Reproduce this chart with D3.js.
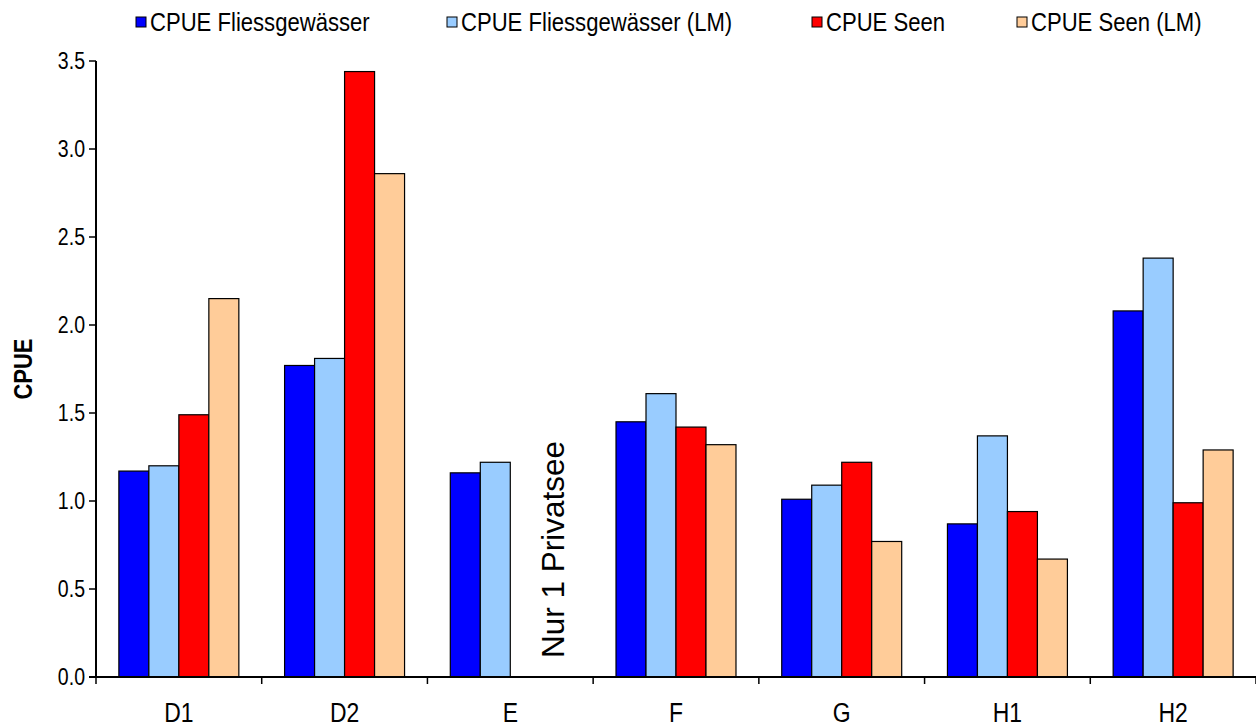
<!DOCTYPE html>
<html><head><meta charset="utf-8">
<script src="https://cdn.jsdelivr.net/npm/d3@7"></script>
<style>
html,body{margin:0;padding:0;background:#fff;}
svg text{font-family:Arial,"Liberation Sans",sans-serif;fill:#000;}
</style></head>
<body>
<svg id="chart" width="1256" height="728"></svg>
<script>
const categories = ["D1","D2","E","F","G","H1","H2"];
const seriesNames = ["CPUE Fliessgewässer","CPUE Fliessgewässer (LM)","CPUE Seen","CPUE Seen (LM)"];
const fliess   = [1.17,1.77,1.16,1.45,1.01,0.87,2.08];
const fliessLM = [1.20,1.81,1.22,1.61,1.09,1.37,2.38];
const seen     = [1.49,3.44,null,1.42,1.22,0.94,0.99];
const seenLM   = [2.15,2.86,null,1.32,0.77,0.67,1.29];
const seriesColors = ["#0000FF","#99CCFF","#FF0000","#FFCC99"];
const yTicks = [0,0.5,1.0,1.5,2.0,2.5,3.0,3.5];
const yTitle = "CPUE";
const annotationText = "Nur 1 Privatsee";
const annotationCategory = "E";

const seriesValues = [fliess, fliessLM, seen, seenLM];
const SX = 0.85; // horizontal glyph condensing of the reference

const svg = d3.select("#chart");
const plotLeft = 96, plotRight = 1256, plotTop = 61, plotBottom = 677;

const x = d3.scaleBand().domain(categories).range([plotLeft, plotRight]).paddingInner(0.276).paddingOuter(0.138);
const x1 = d3.scaleBand().domain(seriesNames).range([0, x.bandwidth()]).padding(0);
const y = d3.scaleLinear().domain([0, 3.5]).range([plotBottom, plotTop]);

function hText(g, px, py, txt, size, anchor) {
  return g.append("text")
    .attr("transform", `translate(${px},${py}) scale(${SX},1)`)
    .attr("font-size", size).attr("text-anchor", anchor).text(txt);
}
function vText(g, px, py, txt, size, anchor, thick) {
  return g.append("text")
    .attr("transform", `translate(${px},${py}) rotate(-90) scale(1,${thick})`)
    .attr("font-size", size).attr("text-anchor", anchor).text(txt);
}

// bars
const rows = categories.map((c, i) => ({cat: c, vals: seriesNames.map((s, j) => ({s, j, v: seriesValues[j][i]}))}));
const groups = svg.append("g").selectAll("g").data(rows).join("g")
  .attr("transform", d => `translate(${x(d.cat)},0)`);
groups.selectAll("rect").data(d => d.vals.filter(e => e.v != null)).join("rect")
  .attr("x", d => x1(d.s))
  .attr("width", x1.bandwidth())
  .attr("y", d => y(d.v))
  .attr("height", d => y(0) - y(d.v))
  .attr("fill", d => seriesColors[d.j])
  .attr("stroke", "#000").attr("stroke-width", 1.2);

// y axis
const yAxis = svg.append("g");
yAxis.append("line").attr("x1", plotLeft).attr("x2", plotLeft).attr("y1", y(3.5)).attr("y2", y(0))
  .attr("stroke", "#000").attr("stroke-width", 2);
yTicks.forEach(t => {
  yAxis.append("line").attr("x1", plotLeft - 7).attr("x2", plotLeft).attr("y1", y(t)).attr("y2", y(t))
    .attr("stroke", "#000").attr("stroke-width", 1.5);
  hText(yAxis, plotLeft - 11, y(t) + 8, d3.format(".1f")(t), 23, "end");
});
vText(svg, 32, (y(0) + y(3.5)) / 2, yTitle, 22, "middle", 1.2).attr("font-weight", "bold");

// x axis
const xAxis = svg.append("g");
xAxis.append("line").attr("x1", plotLeft - 7).attr("x2", plotRight).attr("y1", y(0)).attr("y2", y(0))
  .attr("stroke", "#000").attr("stroke-width", 2);
const gap = (x.step() - x.bandwidth()) / 2;
const bounds = categories.map(c => x(c) - gap).concat([x(categories[categories.length - 1]) + x.bandwidth() + gap]);
bounds.forEach(b => {
  xAxis.append("line").attr("x1", b).attr("x2", b).attr("y1", y(0)).attr("y2", y(0) + 7)
    .attr("stroke", "#000").attr("stroke-width", 1.5);
});
categories.forEach(c => {
  hText(xAxis, x(c) + x.bandwidth() / 2, 722, c, 27, "middle");
});

// annotation
vText(svg, x(annotationCategory) + x1(seriesNames[2]) + x1.bandwidth() + 24, y(0) - 19, annotationText, 31.5, "start", 1);

// legend
const legendX = [150, 461, 826, 1031];
const legend = svg.append("g");
seriesNames.forEach((s, j) => {
  legend.append("rect").attr("x", legendX[j] - 14).attr("y", 17).attr("width", 10).attr("height", 10)
    .attr("fill", seriesColors[j]).attr("stroke", "#000").attr("stroke-width", 1);
  hText(legend, legendX[j], 31, s, 26, "start");
});
</script>
</body></html>
